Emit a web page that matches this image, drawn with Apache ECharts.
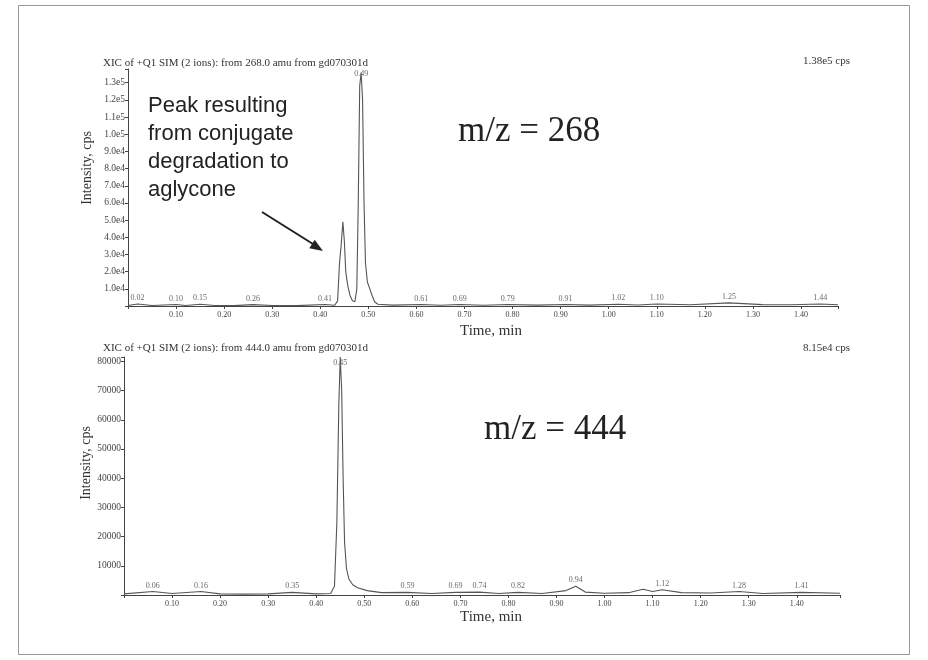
<!DOCTYPE html>
<html>
<head>
<meta charset="utf-8">
<script src="https://cdn.jsdelivr.net/npm/echarts@6/dist/echarts.min.js"></script>
<style>
html,body{margin:0;padding:0;background:#fff;}
#chart{width:928px;height:660px;}
</style>
</head>
<body>
<div id="chart"></div>
<script>
// ---------- data ----------
// Top panel: m/z = 268
const topTimes = [0.00,0.02,0.05,0.10,0.12,0.15,0.18,0.22,0.26,0.30,0.35,0.41,0.43,0.436,0.440,0.443,0.447,0.450,0.453,0.457,0.462,0.467,0.472,0.476,0.479,0.482,0.485,0.488,0.491,0.494,0.498,0.503,0.508,0.513,0.52,0.55,0.61,0.65,0.69,0.74,0.79,0.85,0.91,0.96,1.02,1.06,1.10,1.17,1.25,1.32,1.38,1.44,1.477];
const topIntensity = [300,1200,300,900,300,1000,300,200,800,300,200,900,400,3000,25000,34000,49000,38000,20000,12000,6000,3000,2500,10000,60000,128000,136000,120000,60000,25000,14000,10000,6000,2500,1000,500,900,400,900,400,900,500,900,500,1000,600,1200,700,1800,800,700,1200,700];
const topPeakTimes = [0.02,0.10,0.15,0.26,0.41,0.485,0.61,0.69,0.79,0.91,1.02,1.10,1.25,1.44];
const topPeakHeights = [1200,900,1000,800,900,135000,900,900,900,900,1000,1200,1800,1200];
const topPeakLabels = ['0.02','0.10','0.15','0.26','0.41','0.49','0.61','0.69','0.79','0.91','1.02','1.10','1.25','1.44'];

// Bottom panel: m/z = 444
const botTimes = [0.00,0.06,0.10,0.16,0.20,0.25,0.30,0.35,0.40,0.43,0.438,0.443,0.447,0.450,0.453,0.456,0.459,0.463,0.468,0.476,0.486,0.506,0.536,0.59,0.64,0.69,0.74,0.78,0.82,0.87,0.92,0.94,0.96,1.00,1.05,1.08,1.10,1.12,1.16,1.22,1.28,1.33,1.41,1.49];
const botIntensity = [400,1200,500,1200,400,300,400,900,400,500,3000,25000,65000,81500,70000,40000,18000,9000,5500,3500,2500,1500,800,900,500,900,1000,500,900,500,1500,3000,1000,600,800,2000,1200,1800,800,700,1200,500,900,600];
const botPeakTimes = [0.06,0.16,0.35,0.45,0.59,0.69,0.74,0.82,0.94,1.12,1.28,1.41];
const botPeakHeights = [1200,1200,900,79500,900,900,1000,900,3000,1800,1200,900];
const botPeakLabels = ['0.06','0.16','0.35','0.45','0.59','0.69','0.74','0.82','0.94','1.12','1.28','1.41'];

const topYTicks = {min:0, max:138000, interval:10000};
const botYTicks = {min:0, max:81500, interval:10000};

// ---------- build ----------
const serif = '"Liberation Serif", "DejaVu Serif", serif';
const pair = (xs, ys) => xs.map((x, i) => [x, ys[i]]);
// labels of the tallest peak sit on the apex (inside the plot top), the rest just above the trace
const peakData = (xs, ys, ls, axisMax) => xs.map((x, i) => ({
  value:[x, ys[i]],
  label: ys[i] > axisMax * 0.5 ? {formatter: ls[i], position:'inside'} : {formatter: ls[i]}
}));

function xAxisCfg(gi, max) {
  return {
    type:'value', gridIndex:gi, min:0, max:max, interval:0.1,
    axisLine:{show:true, onZero:false, lineStyle:{color:'#444', width:1}},
    axisTick:{show:true, length:3, lineStyle:{color:'#444'}},
    splitLine:{show:false},
    axisLabel:{fontFamily:serif, fontSize:8, color:'#444', margin:5,
      formatter: v => (v < 0.05 || v > 1.45) ? '' : v.toFixed(2)},
    showMinLabel:false, showMaxLabel:false
  };
}
function yAxisCfg(gi, t, fmt) {
  return {
    type:'value', gridIndex:gi, min:t.min, max:t.max, interval:t.interval,
    axisLine:{show:true, lineStyle:{color:'#444', width:1}},
    axisTick:{show:true, length:3, lineStyle:{color:'#444'}},
    splitLine:{show:false},
    axisLabel:{fontFamily:serif, fontSize:9.5, color:'#444', margin:3,
      formatter: v => (v === 0 || v % t.interval !== 0) ? '' : fmt(v)},
    showMaxLabel:false
  };
}
const lineStyle = {color:'#555', width:1.1};
const peakLabelStyle = {show:true, position:'top', distance:2, fontFamily:serif, fontSize:8, color:'#444'};

const option = {
  backgroundColor:'#fff',
  animation:false,
  grid:[
    {left:128, top:69, width:710, height:237},
    {left:124, top:357, width:716, height:238}
  ],
  xAxis:[ xAxisCfg(0, 1.477), xAxisCfg(1, 1.49) ],
  yAxis:[
    yAxisCfg(0, topYTicks, v => v.toExponential(1).replace('e+', 'e')),
    yAxisCfg(1, botYTicks, v => String(v))
  ],
  series:[
    {type:'line', xAxisIndex:0, yAxisIndex:0, data:pair(topTimes, topIntensity), showSymbol:false, lineStyle:lineStyle, silent:true},
    {type:'scatter', xAxisIndex:0, yAxisIndex:0, data:peakData(topPeakTimes, topPeakHeights, topPeakLabels, topYTicks.max), symbolSize:0, label:peakLabelStyle, silent:true},
    {type:'line', xAxisIndex:1, yAxisIndex:1, data:pair(botTimes, botIntensity), showSymbol:false, lineStyle:lineStyle, silent:true},
    {type:'scatter', xAxisIndex:1, yAxisIndex:1, data:peakData(botPeakTimes, botPeakHeights, botPeakLabels, botYTicks.max), symbolSize:0, label:peakLabelStyle, silent:true}
  ],
  graphic:[
    {type:'rect', shape:{x:18.5, y:5.5, width:891, height:649}, style:{fill:'none', stroke:'#999', lineWidth:1}, silent:true},
    // panel headers
    {type:'text', x:103, y:63, style:{text:'XIC of +Q1 SIM (2 ions): from 268.0 amu from gd070301d', font:'11px ' + serif, fill:'#333', textVerticalAlign:'middle'}},
    {type:'text', x:850, y:61, style:{text:'1.38e5 cps', font:'11px ' + serif, fill:'#333', textAlign:'right', textVerticalAlign:'middle'}},
    {type:'text', x:103, y:348, style:{text:'XIC of +Q1 SIM (2 ions): from 444.0 amu from gd070301d', font:'11px ' + serif, fill:'#333', textVerticalAlign:'middle'}},
    {type:'text', x:850, y:348, style:{text:'8.15e4 cps', font:'11px ' + serif, fill:'#333', textAlign:'right', textVerticalAlign:'middle'}},
    // axis names
    {type:'text', x:491, y:331, style:{text:'Time, min', font:'15px ' + serif, fill:'#333', textAlign:'center', textVerticalAlign:'middle'}},
    {type:'text', x:491, y:617, style:{text:'Time, min', font:'15px ' + serif, fill:'#333', textAlign:'center', textVerticalAlign:'middle'}},
    {type:'text', x:87, y:168, rotation:Math.PI/2, style:{text:'Intensity, cps', font:'14px ' + serif, fill:'#333', textAlign:'center', textVerticalAlign:'middle'}},
    {type:'text', x:86, y:463, rotation:Math.PI/2, style:{text:'Intensity, cps', font:'14px ' + serif, fill:'#333', textAlign:'center', textVerticalAlign:'middle'}},
    // big labels
    {type:'text', x:458, y:132, style:{text:'m/z = 268', font:'35px ' + serif, fill:'#222', textVerticalAlign:'middle'}},
    {type:'text', x:484, y:430, style:{text:'m/z = 444', font:'35px ' + serif, fill:'#222', textVerticalAlign:'middle'}},
    // annotation
    {type:'text', x:148, y:92, style:{text:'Peak resulting\nfrom conjugate\ndegradation to\naglycone', font:'22px "Liberation Sans", Arial, sans-serif', fill:'#222', lineHeight:28}},
    {type:'line', shape:{x1:262, y1:212, x2:313, y2:244}, style:{stroke:'#222', lineWidth:2}},
    {type:'polygon', shape:{points:[[323,251],[309.3,248.2],[314.7,239.8]]}, style:{fill:'#222'}}
  ]
};
echarts.init(document.getElementById('chart'), null, {renderer:'canvas'}).setOption(option);
</script>
</body>
</html>
